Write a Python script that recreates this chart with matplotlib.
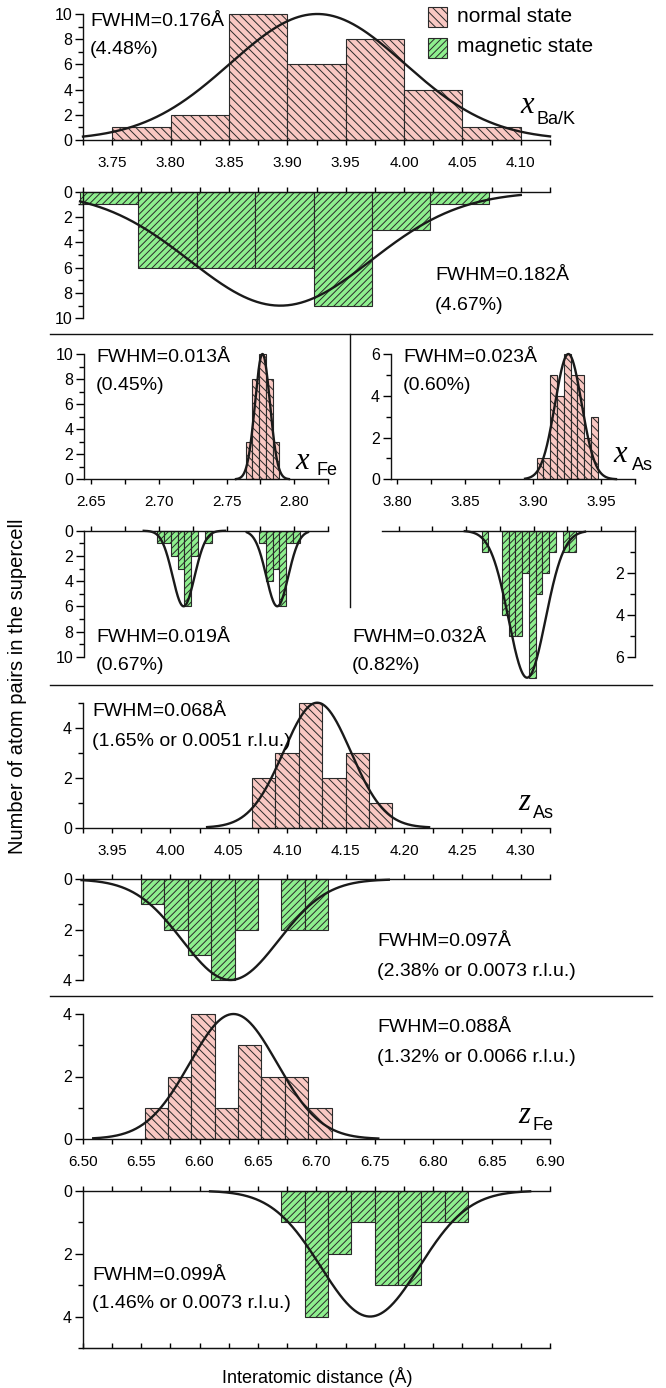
import numpy as np
import matplotlib
matplotlib.use('Agg')
import matplotlib.pyplot as plt
from matplotlib.patches import Rectangle
from matplotlib.lines import Line2D

W, H, DPI = 666, 1388, 100

NARROW = ['Liberation Sans Narrow', 'Liberation Sans', 'DejaVu Sans']
SANS = ['Liberation Sans', 'DejaVu Sans']
SERIF = ['Liberation Serif', 'DejaVu Serif']

plt.rcParams['font.family'] = SANS
plt.rcParams['hatch.linewidth'] = 0.7
plt.rcParams['hatch.color'] = '#2a2a2a'

PINK = '#F9C8C3'
GREEN = '#8EEF8E'
EDGE = '#2a2a2a'
CURVE = '#1a1a1a'
H_NORM = '\\\\\\\\'
H_MAG = '/////'

# ---------------- data ----------------
# x Ba/K
bak_norm_left = [3.75, 3.80, 3.85, 3.90, 3.95, 4.00, 4.05]
bak_norm_count = [1, 2, 10, 6, 8, 4, 1]
bak_mag_left = [3.7225, 3.7725, 3.8225, 3.8725, 3.9225, 3.9725, 4.0225]
bak_mag_count = [1, 6, 6, 6, 9, 3, 1]
bak_width = 0.05
bak_norm_fit = (3.9257, 10, 0.176)
bak_mag_fit = (3.894, 9, 0.182)

# x Fe
fe_norm_left = [2.764, 2.769, 2.774, 2.779, 2.784]
fe_norm_count = [3, 8, 10, 8, 3]
fe_mag_left = [2.699, 2.704, 2.709, 2.714, 2.719, 2.724, 2.734,
               2.774, 2.779, 2.784, 2.789, 2.794, 2.799]
fe_mag_count = [1, 1, 2, 3, 6, 2, 1, 1, 4, 3, 6, 1, 1]
fe_width = 0.005
fe_norm_fit = (2.7765, 10, 0.013)
fe_mag_fit1 = (2.7184, 6, 0.019)
fe_mag_fit2 = (2.7874, 6, 0.019)

# x As
as_norm_left = [3.9025, 3.9075, 3.9125, 3.9175, 3.9225, 3.9275, 3.9325, 3.9375, 3.9425]
as_norm_count = [1, 1, 5, 4, 6, 5, 5, 2, 3]
as_mag_left = [3.8615, 3.8765, 3.8815, 3.8865, 3.8915, 3.8965, 3.9015, 3.9065,
               3.9115, 3.9215, 3.9265]
as_mag_count = [1, 4, 5, 5, 2, 7, 3, 2, 1, 1, 1]
as_width = 0.005
as_norm_fit = (3.9259, 6, 0.023)
as_mag_fit = (3.8951, 7, 0.032)

# z As
zas_norm_left = [4.07, 4.09, 4.11, 4.13, 4.15, 4.17]
zas_norm_count = [2, 3, 5, 2, 3, 1]
zas_mag_left = [3.975, 3.995, 4.015, 4.035, 4.055, 4.095, 4.115]
zas_mag_count = [1, 2, 3, 4, 2, 2, 2]
zas_width = 0.02
zas_norm_fit = (4.1257, 5, 0.068)
zas_mag_fit = (4.0515, 4, 0.097)

# z Fe
zfe_norm_left = [6.553, 6.573, 6.593, 6.613, 6.633, 6.653, 6.673, 6.693]
zfe_norm_count = [1, 2, 4, 1, 3, 2, 2, 1]
zfe_mag_left = [6.67, 6.69, 6.71, 6.73, 6.75, 6.77, 6.79, 6.81]
zfe_mag_count = [1, 4, 2, 1, 3, 3, 1, 1]
zfe_width = 0.02
zfe_norm_fit = (6.629, 4, 0.088)
zfe_mag_fit = (6.746, 4, 0.099)

# tick labels
bak_ticks = [3.75, 3.80, 3.85, 3.90, 3.95, 4.00, 4.05, 4.10]
fe_ticks = [2.65, 2.70, 2.75, 2.80]
as_ticks = [3.80, 3.85, 3.90, 3.95]
zas_ticks = [3.95, 4.00, 4.05, 4.10, 4.15, 4.20, 4.25, 4.30]
zfe_ticks = [6.50, 6.55, 6.60, 6.65, 6.70, 6.75, 6.80, 6.85, 6.90]

fwhm_texts = {
    'bak_n': ('FWHM=0.176Å', '(4.48%)'),
    'bak_m': ('FWHM=0.182Å', '(4.67%)'),
    'fe_n': ('FWHM=0.013Å', '(0.45%)'),
    'fe_m': ('FWHM=0.019Å', '(0.67%)'),
    'as_n': ('FWHM=0.023Å', '(0.60%)'),
    'as_m': ('FWHM=0.032Å', '(0.82%)'),
    'zas_n': ('FWHM=0.068Å', '(1.65% or 0.0051 r.l.u.)'),
    'zas_m': ('FWHM=0.097Å', '(2.38% or 0.0073 r.l.u.)'),
    'zfe_n': ('FWHM=0.088Å', '(1.32% or 0.0066 r.l.u.)'),
    'zfe_m': ('FWHM=0.099Å', '(1.46% or 0.0073 r.l.u.)'),
}

# ---------------- helpers ----------------
fig = plt.figure(figsize=(W / DPI, H / DPI), dpi=DPI)

PT = 0.72  # points per pixel at 100 dpi
FS_TXT = 14


def px_axes(l, r, t, b):
    ax = fig.add_axes([l / W, 1 - b / H, (r - l) / W, (b - t) / H])
    ax.patch.set_visible(False)
    for sp in ax.spines.values():
        sp.set_linewidth(1.0)
        sp.set_color('#111111')
    return ax


def gauss(x, c, a, fwhm):
    s = fwhm / (2 * np.sqrt(2 * np.log(2)))
    return a * np.exp(-(x - c) ** 2 / (2 * s * s))


def draw_hist(ax, lefts, counts, width, color, hatch):
    for l, c in zip(lefts, counts):
        if c > 0:
            ax.bar(l, c, width=width, align='edge', color=color, edgecolor=EDGE,
                   linewidth=0.8, hatch=hatch, clip_on=False, zorder=2)


def draw_curve(ax, fit, x0, x1):
    c, a, fw = fit
    xs = np.linspace(x0, x1, 400)
    ax.plot(xs, gauss(xs, c, a, fw), color=CURVE, lw=1.7, clip_on=False, zorder=3)


def minor_between(ticks, lo, hi, step=0.025):
    vals = []
    v = ticks[0] - step
    while v >= lo - 1e-9:
        vals.append(v)
        v -= step
    for t in ticks:
        vals.append(t + step)
    return [m for m in vals if lo - 1e-9 <= m <= hi + 1e-9]


def set_yticks(ax, maj, mnr, labels=True):
    ax.set_yticks(maj)
    ax.set_yticks(mnr, minor=True)
    ax.tick_params(axis='y', which='major', direction='out', length=8 * PT, width=1,
                   labelsize=11.5, pad=2, labelleft=labels)
    ax.tick_params(axis='y', which='minor', direction='out', length=5 * PT, width=1)


def setup_normal(ax, xlim, ylim, xt, ymaj, ymin):
    ax.set_xlim(xlim)
    ax.set_ylim(ylim)
    ax.spines['top'].set_visible(False)
    ax.spines['right'].set_visible(False)
    ax.set_xticks(xt)
    ax.set_xticklabels([f'{v:.2f}' for v in xt])
    ax.set_xticks(minor_between(xt, xlim[0], xlim[1]), minor=True)
    ax.tick_params(axis='x', which='both', direction='out', length=5 * PT, width=1,
                   labelsize=11, pad=8)
    set_yticks(ax, ymaj, ymin)


def setup_mag(ax, xlim, ylim, xt, ymaj, ymin):
    ax.set_xlim(xlim)
    ax.set_ylim(ylim)
    ax.spines['bottom'].set_visible(False)
    ax.spines['right'].set_visible(False)
    ax.xaxis.set_ticks_position('top')
    allt = sorted(list(xt) + minor_between(xt, xlim[0], xlim[1]))
    allt = [t for t in allt if xlim[0] - 1e-9 <= t <= xlim[1] + 1e-9]
    ax.set_xticks(allt)
    ax.tick_params(axis='x', which='both', direction='out', length=5 * PT, width=1,
                   labeltop=False, labelbottom=False)
    set_yticks(ax, ymaj, ymin)


def ftext(x, y, s, size=FS_TXT, family=NARROW, **kw):
    kw.setdefault('va', 'center')
    kw.setdefault('ha', 'left')
    fig.text(x / W, 1 - y / H, s, fontsize=size, family=family, **kw)


def fwhm(x, y1, y2, key):
    a, b = fwhm_texts[key]
    ftext(x, y1, a)
    ftext(x, y2, b)


def varlabel(x, y, letter, sub, dx, dy):
    fig.text(x / W, 1 - y / H, letter, fontsize=22, family=SERIF, style='italic',
             va='baseline', ha='left')
    fig.text((x + dx) / W, 1 - (y + dy) / H, sub, fontsize=13, family=NARROW,
             va='baseline', ha='left')


def hline(y, x0=50, x1=652):
    fig.add_artist(Line2D([x0 / W, x1 / W], [1 - y / H, 1 - y / H],
                          transform=fig.transFigure, color='#111111', lw=1.0))


def vline(x, y0, y1):
    fig.add_artist(Line2D([x / W, x / W], [1 - y0 / H, 1 - y1 / H],
                          transform=fig.transFigure, color='#111111', lw=1.0))


# ---------------- x Ba/K ----------------
ax = px_axes(83, 550, 14, 140)
setup_normal(ax, (3.725, 4.125), (0, 10), bak_ticks, [0, 2, 4, 6, 8, 10], [1, 3, 5, 7, 9])
draw_hist(ax, bak_norm_left, bak_norm_count, bak_width, PINK, H_NORM)
draw_curve(ax, bak_norm_fit, 3.725, 4.125)

ax = px_axes(83, 550, 191.7, 318.3)
setup_mag(ax, (3.725, 4.125), (10, 0), bak_ticks, [0, 2, 4, 6, 8, 10], [1, 3, 5, 7, 9])
draw_hist(ax, bak_mag_left, bak_mag_count, bak_width, GREEN, H_MAG)
draw_curve(ax, bak_mag_fit, 3.7225, 4.10)

fwhm(90, 22, 50, 'bak_n')
fwhm(435, 276, 305, 'bak_m')
varlabel(520, 113, 'x', 'Ba/K', 17, 11)

# ---------------- x Fe ----------------
ax = px_axes(84, 328.3, 354, 479.3)
setup_normal(ax, (2.645, 2.825), (0, 10), fe_ticks, [0, 2, 4, 6, 8, 10], [1, 3, 5, 7, 9])
draw_hist(ax, fe_norm_left, fe_norm_count, fe_width, PINK, H_NORM)
draw_curve(ax, fe_norm_fit, 2.757, 2.796)

ax = px_axes(84, 328.3, 530.7, 656.7)
setup_mag(ax, (2.645, 2.825), (10, 0), fe_ticks, [0, 2, 4, 6, 8, 10], [1, 3, 5, 7, 9])
draw_hist(ax, fe_mag_left, fe_mag_count, fe_width, GREEN, H_MAG)
draw_curve(ax, fe_mag_fit1, 2.689, 2.749)
draw_curve(ax, fe_mag_fit2, 2.765, 2.810)

fwhm(96, 357, 386, 'fe_n')
fwhm(96, 637, 665, 'fe_m')
varlabel(295, 469, 'x', 'Fe', 21, 6)

# ---------------- x As ----------------
ax = px_axes(390.7, 635, 354, 479.3)
setup_normal(ax, (3.795, 3.975), (0, 6), as_ticks, [0, 2, 4, 6], [1, 3, 5])
draw_hist(ax, as_norm_left, as_norm_count, as_width, PINK, H_NORM)
draw_curve(ax, as_norm_fit, 3.894, 3.961)

ax = px_axes(381.7, 635, 530.7, 677.7)
setup_mag(ax, (3.7875, 3.975), (7, 0), as_ticks, [2, 4, 6], [1, 3, 5])
ax.spines['left'].set_position(('axes', 1.0))
ax.spines['left'].set_bounds(0, 6)
draw_hist(ax, as_mag_left, as_mag_count, as_width, GREEN, H_MAG)
draw_curve(ax, as_mag_fit, 3.849, 3.938)

fwhm(403, 357, 386, 'as_n')
fwhm(352, 637, 665, 'as_m')
varlabel(613, 462, 'x', 'As', 19, 8)

# ---------------- z As ----------------
ax = px_axes(82.7, 550, 702.7, 827.7)
setup_normal(ax, (3.925, 4.325), (0, 5), zas_ticks, [0, 2, 4], [1, 3, 5])
draw_hist(ax, zas_norm_left, zas_norm_count, zas_width, PINK, H_NORM)
draw_curve(ax, zas_norm_fit, 4.0315, 4.2215)

ax = px_axes(82.7, 550, 879.3, 980)
setup_mag(ax, (3.925, 4.325), (4, 0), zas_ticks, [0, 2, 4], [1, 3])
draw_hist(ax, zas_mag_left, zas_mag_count, zas_width, GREEN, H_MAG)
draw_curve(ax, zas_mag_fit, 3.924, 4.187)

fwhm(92, 712, 741, 'zas_n')
fwhm(377, 941, 971, 'zas_m')
varlabel(518, 810, 'z', 'As', 15, 8)

# ---------------- z Fe ----------------
ax = px_axes(82.7, 550, 1014, 1139)
setup_normal(ax, (6.50, 6.90), (0, 4), zfe_ticks, [0, 2, 4], [1, 3])
draw_hist(ax, zfe_norm_left, zfe_norm_count, zfe_width, PINK, H_NORM)
draw_curve(ax, zfe_norm_fit, 6.509, 6.753)

ax = px_axes(82.7, 550, 1190.7, 1348)
setup_mag(ax, (6.50, 6.90), (5, 0), zfe_ticks, [0, 2, 4], [1, 3, 5])
ax.spines['bottom'].set_visible(True)
sec = ax.secondary_xaxis('bottom')
sec.set_xticks(ax.get_xticks())
sec.tick_params(axis='x', direction='in', length=5 * PT, width=1, labelbottom=False)
draw_hist(ax, zfe_mag_left, zfe_mag_count, zfe_width, GREEN, H_MAG)
draw_curve(ax, zfe_mag_fit, 6.609, 6.883)

fwhm(377, 1028, 1058, 'zfe_n')
fwhm(92, 1275, 1303, 'zfe_m')
varlabel(518, 1123, 'z', 'Fe', 15, 7)

# ---------------- separators ----------------
hline(333.5)
hline(685)
hline(996)
vline(350, 334, 607)

# ---------------- legend ----------------
fig.add_artist(Rectangle((428.3 / W, 1 - 26.7 / H), 18.4 / W, 20 / H, transform=fig.transFigure,
                         facecolor=PINK, edgecolor=EDGE, hatch=H_NORM, lw=0.8))
fig.add_artist(Rectangle((428.3 / W, 1 - 58.3 / H), 18.4 / W, 20 / H, transform=fig.transFigure,
                         facecolor=GREEN, edgecolor=EDGE, hatch=H_MAG, lw=0.8))
ftext(457, 16.7, 'normal state', size=15)
ftext(457, 46.7, 'magnetic state', size=15)

# ---------------- axis titles ----------------
ftext(18, 686, 'Number of atom pairs in the supercell', size=14.5, rotation=90, ha='center')
ftext(317, 1377, 'Interatomic distance (Å)', size=13, ha='center')

fig.savefig('out.png', dpi=DPI)
